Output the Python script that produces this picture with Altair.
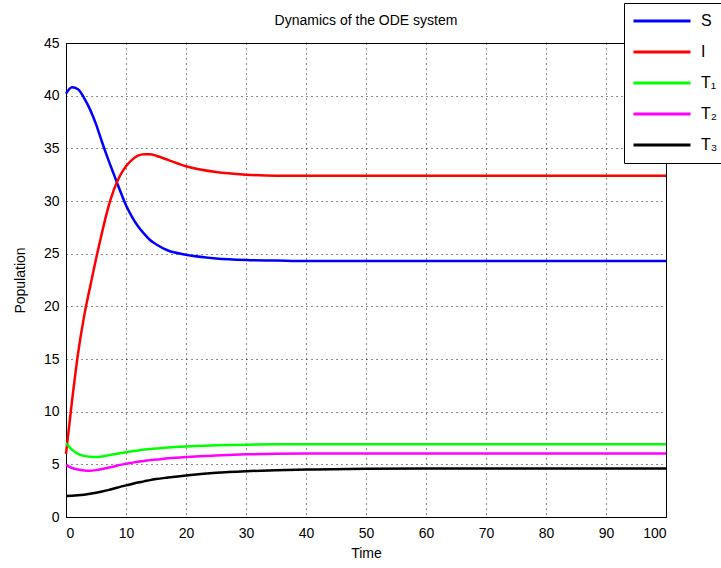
import altair as alt
import pandas as pd

times = [0, 1, 2, 3, 4, 5, 6, 7, 8, 9, 10, 11, 12, 13, 14, 15, 17, 20, 25, 30, 35, 40, 50, 60, 70, 80, 90, 100]
S = [40.2, 40.8, 40.6, 39.8, 38.7, 37.3, 35.6, 34.0, 32.5, 31.0, 29.6, 28.5, 27.6, 26.9, 26.3, 25.9, 25.3, 24.9, 24.55, 24.4, 24.35, 24.3, 24.3, 24.3, 24.3, 24.3, 24.3, 24.3]
I = [6.0, 11.0, 15.5, 19.0, 21.8, 24.5, 27.0, 29.3, 31.1, 32.4, 33.3, 33.9, 34.3, 34.45, 34.45, 34.3, 33.9, 33.3, 32.75, 32.5, 32.4, 32.4, 32.4, 32.4, 32.4, 32.4, 32.4, 32.4]
T1 = [7.0, 6.4, 6.0, 5.8, 5.72, 5.7, 5.75, 5.85, 5.95, 6.05, 6.15, 6.25, 6.32, 6.4, 6.45, 6.5, 6.6, 6.7, 6.8, 6.87, 6.9, 6.9, 6.9, 6.9, 6.9, 6.9, 6.9, 6.9]
T2 = [4.95, 4.65, 4.5, 4.42, 4.4, 4.45, 4.55, 4.68, 4.8, 4.95, 5.05, 5.15, 5.25, 5.32, 5.4, 5.45, 5.57, 5.7, 5.85, 5.95, 6.0, 6.02, 6.02, 6.02, 6.02, 6.02, 6.02, 6.02]
T3 = [2.0, 2.02, 2.06, 2.12, 2.2, 2.3, 2.42, 2.55, 2.7, 2.86, 3.0, 3.14, 3.27, 3.38, 3.5, 3.6, 3.75, 3.95, 4.2, 4.35, 4.45, 4.5, 4.58, 4.6, 4.6, 4.6, 4.6, 4.6]

series_names = ["S", "I", "T₁", "T₂", "T₃"]
series_colors = ["#0000ff", "#ff0000", "#00ff00", "#ff00ff", "#000000"]
series_values = [S, I, T1, T2, T3]

rows = []
for name, vals in zip(series_names, series_values):
    for t, v in zip(times, vals):
        rows.append({"Time": t, "Population": v, "series": name})
df = pd.DataFrame(rows)

FONT = "Liberation Sans Narrow, Liberation Sans, Arial, sans-serif"

chart = alt.Chart(df).mark_line(strokeWidth=2.5, interpolate="monotone").encode(
    x=alt.X("Time:Q", scale=alt.Scale(domain=[0, 100], nice=False),
            axis=alt.Axis(values=list(range(0, 101, 10)), title="Time")),
    y=alt.Y("Population:Q", scale=alt.Scale(domain=[0, 45], nice=False),
            axis=alt.Axis(values=list(range(0, 46, 5)), title="Population")),
    color=alt.Color("series:N",
                    scale=alt.Scale(domain=series_names, range=series_colors),
                    legend=alt.Legend(title=None, orient="none", legendX=558, legendY=-40,
                                      symbolType="stroke", symbolSize=3249, symbolStrokeWidth=3,
                                      clipHeight=20, rowPadding=11, padding=8, labelOffset=9,
                                      labelFontSize=16, labelFont=FONT, labelColor="black",
                                      fillColor="white", strokeColor="black")),
    detail="series:N",
    order=alt.Order("Time:Q"),
).properties(
    width=600, height=474,
    title=alt.TitleParams("Dynamics of the ODE system", fontSize=14, fontWeight="normal",
                          font=FONT, color="black", offset=0, dy=25),
    autosize=alt.AutoSizeParams(type="none"),
    padding={"left": 66, "top": 43, "right": 55, "bottom": 51},
    background="white",
).configure_view(
    stroke="black", strokeWidth=1
).configure_axis(
    grid=True, gridColor="black", gridDash=[1, 4], gridOpacity=0.9, gridWidth=1,
    domainColor="black", tickSize=0, labelFont=FONT, labelFontSize=14, labelColor="black",
    titleFont=FONT, titleFontSize=14, titleFontWeight="normal", titleColor="black",
).configure_axisX(
    labelPadding=9, titlePadding=6
).configure_axisY(
    labelPadding=7, titlePadding=16
)

chart.save("out.html", embed_options={"renderer": "svg", "actions": False})
